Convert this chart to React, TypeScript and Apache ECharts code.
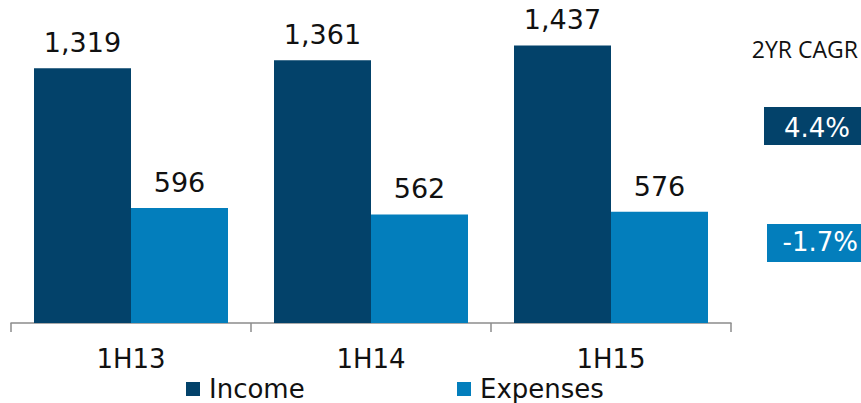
import React, { useEffect, useRef } from "react";
import * as echarts from "echarts";

const categories = ["1H13", "1H14", "1H15"];
const income = [1319, 1361, 1437];
const expenses = [596, 562, 576];
const cagrTitle = "2YR CAGR";
const cagrIncome = "4.4%";
const cagrExpenses = "-1.7%";

const NAVY = "#03426A";
const BLUE = "#037EBC";
const FONT = "DejaVu Sans";

export default function App() {
  const ref = useRef<HTMLDivElement>(null);
  useEffect(() => {
    const chart = echarts.init(ref.current!, null, { renderer: "svg" });
    const fmt = (p: any) => Number(p.value).toLocaleString("en-US");
    const legendText = { fontSize: 26, color: "#111", fontFamily: FONT, padding: [0, 0, 0, 4] };
    chart.setOption({
      animation: false,
      textStyle: { fontFamily: FONT },
      grid: { left: 11, right: 130, top: 14, bottom: 80 },
      xAxis: {
        type: "category",
        data: categories,
        boundaryGap: true,
        axisLine: { lineStyle: { color: "#8c8c8c", width: 1.5 } },
        axisTick: { show: true, length: 9, lineStyle: { color: "#8c8c8c", width: 1.5 } },
        axisLabel: { fontSize: 26, color: "#111", margin: 23, fontFamily: FONT },
      },
      yAxis: {
        type: "value",
        min: 0,
        max: 1600,
        show: false,
        splitLine: { show: false },
      },
      legend: [
        {
          data: ["Income"],
          left: 186,
          top: 376,
          padding: 0,
          itemWidth: 14,
          itemHeight: 14,
          itemGap: 0,
          icon: "rect",
          textStyle: legendText,
        },
        {
          data: ["Expenses"],
          left: 457,
          top: 376,
          padding: 0,
          itemWidth: 14,
          itemHeight: 14,
          itemGap: 0,
          icon: "rect",
          textStyle: legendText,
        },
      ],
      series: [
        {
          name: "Income",
          type: "bar",
          data: income,
          barWidth: 97,
          barGap: "0%",
          itemStyle: { color: NAVY },
          label: {
            show: true,
            position: "top",
            distance: 12,
            fontSize: 27,
            color: "#111",
            fontFamily: FONT,
            formatter: fmt,
          },
        },
        {
          name: "Expenses",
          type: "bar",
          data: expenses,
          barWidth: 97,
          barGap: "0%",
          itemStyle: { color: BLUE },
          label: {
            show: true,
            position: "top",
            distance: 12,
            fontSize: 27,
            color: "#111",
            fontFamily: FONT,
            formatter: fmt,
          },
        },
      ],
      graphic: [
        {
          type: "text",
          x: 858,
          y: 49,
          style: {
            text: cagrTitle,
            fontSize: 23,
            fill: "#111",
            fontFamily: "Open Sans",
            align: "right",
            verticalAlign: "middle",
          },
        },
        {
          type: "rect",
          shape: { x: 764, y: 107, width: 97, height: 38 },
          style: { fill: NAVY },
        },
        {
          type: "text",
          x: 850,
          y: 128,
          style: {
            text: cagrIncome,
            fontSize: 26,
            fill: "#fff",
            fontFamily: FONT,
            align: "right",
            verticalAlign: "middle",
          },
        },
        {
          type: "rect",
          shape: { x: 767, y: 224, width: 94, height: 38 },
          style: { fill: BLUE },
        },
        {
          type: "text",
          x: 858,
          y: 242,
          style: {
            text: cagrExpenses,
            fontSize: 26,
            fill: "#fff",
            fontFamily: FONT,
            align: "right",
            verticalAlign: "middle",
          },
        },
      ],
    });
    return () => chart.dispose();
  }, []);
  return (
    <div
      ref={ref}
      style={{ position: "fixed", left: 0, top: 0, width: 861, height: 403, background: "#fff" }}
    />
  );
}
